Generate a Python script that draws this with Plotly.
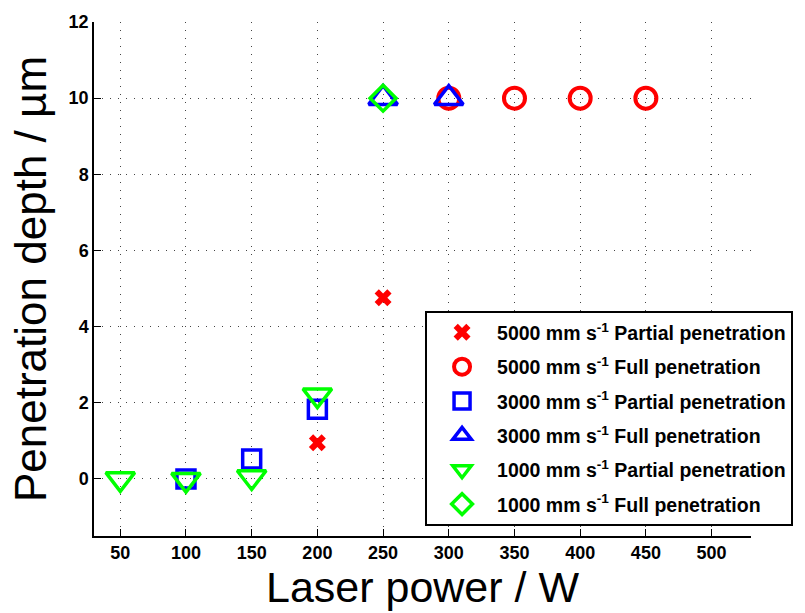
import plotly.graph_objects as go

# ---- data ----
x_5000_partial = [200, 250]
y_5000_partial = [0.95, 4.76]
x_5000_full = [300, 350, 400, 450]
y_5000_full = [10, 10, 10, 10]
x_3000_partial = [100, 150, 200]
y_3000_partial = [0.0, 0.52, 1.83]
x_3000_full = [250, 300]
y_3000_full = [10, 10]
x_1000_partial = [50, 100, 150, 200]
y_1000_partial = [0.0, -0.02, 0.05, 2.2]
x_1000_full = [250]
y_1000_full = [10]

x_ticks = [50, 100, 150, 200, 250, 300, 350, 400, 450, 500]
y_ticks = [0, 2, 4, 6, 8, 10, 12]

RED = "#ff0000"
BLUE = "#0000ff"
GREEN = "#00ff00"

fig = go.Figure()

def add(xs, ys, name, symbol, color, size, lw, group):
    fig.add_trace(go.Scatter(
        x=xs, y=ys, mode="markers", name=name, legendgroup=group,
        marker=dict(symbol=symbol, size=size, color=color,
                    line=dict(color=color, width=lw)),
    ))

add(x_5000_partial, y_5000_partial, "5000 mm s<sup>-1</sup> Partial penetration", "x", RED, 15, 0, "g1")
add(x_5000_full, y_5000_full, "5000 mm s<sup>-1</sup> Full penetration", "circle-open", RED, 21, 4, "g2")
add(x_3000_partial, y_3000_partial, "3000 mm s<sup>-1</sup> Partial penetration", "square-open", BLUE, 18, 3.5, "g3")
add(x_3000_full, y_3000_full, "3000 mm s<sup>-1</sup> Full penetration", "triangle-up-open", BLUE, 25, 3.5, "g4")
add(x_1000_partial, y_1000_partial, "1000 mm s<sup>-1</sup> Partial penetration", "triangle-down-open", GREEN, 25, 3.5, "g5")
add(x_1000_full, y_1000_full, "1000 mm s<sup>-1</sup> Full penetration", "diamond-open", GREEN, 20, 3.5, "g6")

axis_common = dict(
    showline=True, linecolor="black", linewidth=1.5,
    ticks="inside", ticklen=7, tickcolor="black", tickwidth=1,
    showgrid=True, gridcolor="#444444", gridwidth=1, griddash="1px,7px",
    zeroline=False, mirror=False,
    tickfont=dict(family="Liberation Sans", size=18, color="black", weight="bold"),
)

fig.update_xaxes(range=[30, 530], tickvals=x_ticks, ticktext=[str(v) for v in x_ticks],
                 title=dict(text="Laser power / W", font=dict(family="Liberation Sans", size=43, color="black"), standoff=8),
                 **axis_common)
fig.update_yaxes(range=[-1.5, 12], tickvals=y_ticks, ticktext=[str(v) for v in y_ticks],
                 title=dict(text="Penetration depth / µm", font=dict(family="Liberation Sans", size=44, color="black"), standoff=8),
                 **axis_common)

fig.update_layout(
    width=805, height=613,
    margin=dict(l=94, r=42, t=16, b=72),
    plot_bgcolor="white", paper_bgcolor="white",
    showlegend=True,
    legend=dict(
        x=1.064, xanchor="right", y=0.4375, yanchor="top",
        bgcolor="white", bordercolor="black", borderwidth=2,
        font=dict(family="Liberation Sans", size=19.5, color="black", weight="bold"),
        itemsizing="trace", tracegroupgap=6, itemwidth=60,
    ),
)

fig.write_html("out.html")
